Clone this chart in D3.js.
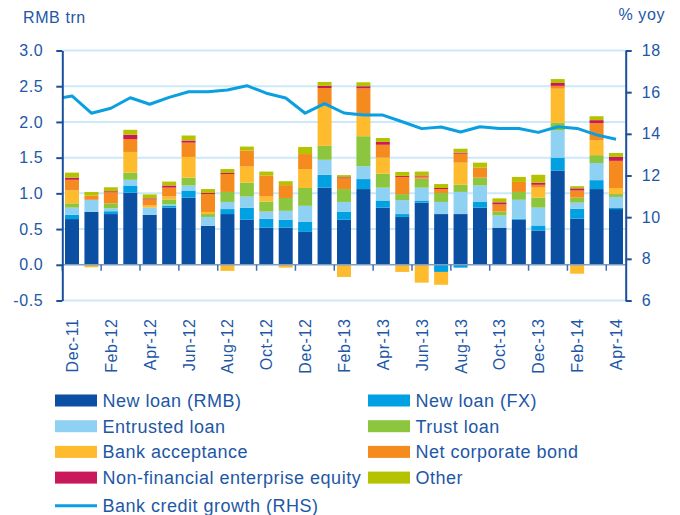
<!DOCTYPE html>
<html>
<head>
<meta charset="utf-8">
<title>Total social financing</title>
<style>
  body { margin: 0; background: #fff; }
  svg { display: block; font-family: "Liberation Sans", Arial, sans-serif; }
</style>
</head>
<body>
<main></main>
<script src="https://cdn.jsdelivr.net/npm/d3@7"></script>
<script>

const months = ["Dec-11","Jan-12","Feb-12","Mar-12","Apr-12","May-12","Jun-12","Jul-12","Aug-12","Sep-12",
  "Oct-12","Nov-12","Dec-12","Jan-13","Feb-13","Mar-13","Apr-13","May-13","Jun-13","Jul-13","Aug-13",
  "Sep-13","Oct-13","Nov-13","Dec-13","Jan-14","Feb-14","Mar-14","Apr-14"];

// RMB trn, monthly flows
const newLoanRMB = [0.64,0.74,0.71,1.01,0.70,0.80,0.94,0.545,0.71,0.63,0.52,0.52,0.46,1.08,0.63,1.06,0.80,0.67,0.87,0.71,0.71,0.80,0.52,0.63,0.48,1.32,0.645,1.06,0.78];
const newLoanFX = [0.06,0,0.04,0.10,0,0.03,0.10,0,0.07,0.17,0.125,0.11,0.14,0.18,0.11,0.14,0.10,0.04,0.03,-0.10,-0.04,0.085,0,0.015,0.07,0.18,0.14,0.125,0.015];
const entrustedLoan = [0.10,0.17,0.04,0.08,0.10,0.015,0.07,0.125,0.10,0.155,0.10,0.125,0.225,0.21,0.14,0.18,0.18,0.195,0.18,0.17,0.31,0.225,0.17,0.265,0.25,0.38,0.085,0.24,0.155];
const trustLoan = [0.06,0,0.07,0.10,0,0.07,0.11,0.04,0.14,0.195,0.14,0.18,0.25,0.195,0.18,0.42,0.195,0.085,0.125,0.125,0.10,0.11,0.055,0.11,0.14,0.11,0.07,0.11,0.04];
const bankAcceptance = [0.18,-0.035,0,0.29,0.03,0.04,0.29,0.03,-0.085,0.225,0.07,-0.04,0.265,0.56,-0.17,0.28,0.225,-0.10,-0.25,-0.18,0.31,0,0,0,0.14,0.475,-0.125,0.21,0.085];
const netCorpBond = [0.15,0.06,0.155,0.18,0.085,0.125,0.20,0.25,0.25,0.225,0.295,0.18,0.21,0.25,0.15,0.39,0.18,0.24,0.03,0.055,0.125,0.14,0.10,0.14,0.04,0.04,0.10,0.24,0.38];
const nonFinEquity = [0.03,0,0.015,0.06,0.015,0.03,0.03,0.015,0.015,0,0,0,0,0.03,0.015,0.03,0.04,0.015,0.015,0.015,0.015,0,0.03,0,0.03,0.04,0.03,0.04,0.055];
const other = [0.07,0.05,0.055,0.07,0.055,0.055,0.07,0.055,0.055,0.055,0.055,0.055,0.10,0.055,0.03,0.055,0.055,0.055,0.055,0.055,0.055,0.07,0.055,0.07,0.11,0.055,0.03,0.055,0.055];

// % yoy, right axis
const creditGrowth = [15.82,14.99,15.23,15.73,15.42,15.75,16.02,16.02,16.10,16.31,15.95,15.72,14.99,15.45,15.0,14.9,14.9,14.58,14.25,14.33,14.09,14.34,14.26,14.26,14.07,14.34,14.26,13.95,13.74];
const creditGrowthNov11 = 15.65; // month before the first bar, line runs in from the axis

const seriesNames = ["New loan (RMB)","New loan (FX)","Entrusted loan","Trust loan","Bank acceptance","Net corporate bond","Non-financial enterprise equity","Other"];
const seriesValues = [newLoanRMB,newLoanFX,entrustedLoan,trustLoan,bankAcceptance,netCorpBond,nonFinEquity,other];
const seriesColors = ["#0b4fa3","#00a0e3","#8ed1f2","#8cc63e","#fdbb2d","#f58a1f","#c9195b","#b5c200"];
const lineName = "Bank credit growth (RHS)";
const lineColor = "#0a9fe1";

const leftTicks = [-0.5,0,0.5,1,1.5,2,2.5,3];
const rightTicks = [6,8,10,12,14,16,18];

const width = 680, height = 515;
const textColor = "#1d57a6", axisColor = "#1a4f9c", gridColor = "#cbe9f8";
const plotLeft = 62.3, plotRight = 625.7, plotTop = 50.5, plotBottom = 300.5;

const table = months.map((m, i) => {
  const row = { month: m };
  seriesNames.forEach((s, j) => row[s] = seriesValues[j][i]);
  return row;
});

const x = d3.scaleBand().domain(months).range([plotLeft, plotRight]).paddingInner(0.28).paddingOuter(0.14);
const y = d3.scaleLinear().domain([-0.5, 3]).range([plotBottom, plotTop]);
const y2 = d3.scaleLinear().domain([6, 18]).range([plotBottom, plotTop]);
const step = x.step();

const svg = d3.select("main").append("svg")
  .attr("width", width).attr("height", height);

// gridlines
svg.append("g").selectAll("line")
  .data(leftTicks.filter(d => d !== 0))
  .join("line")
    .attr("x1", plotLeft).attr("x2", plotRight)
    .attr("y1", d => y(d)).attr("y2", d => y(d))
    .attr("stroke", gridColor).attr("stroke-width", 2);

// stacked bars
const stacked = d3.stack().keys(seriesNames).offset(d3.stackOffsetDiverging)(table);
svg.append("g").selectAll("g")
  .data(stacked)
  .join("g")
    .attr("fill", (d, i) => seriesColors[i])
  .selectAll("rect")
  .data(d => d)
  .join("rect")
    .attr("x", d => x(d.data.month))
    .attr("width", x.bandwidth())
    .attr("y", d => y(Math.max(d[0], d[1])))
    .attr("height", d => Math.abs(y(d[0]) - y(d[1])));

// zero axis with ticks every two months
const xAxisG = svg.append("g");
xAxisG.append("line")
  .attr("x1", plotLeft).attr("x2", plotRight)
  .attr("y1", y(0)).attr("y2", y(0))
  .attr("stroke", "#7f9cc4").attr("stroke-width", 1.5);
xAxisG.selectAll("line.tk")
  .data(months.filter((m, i) => i % 2 === 0))
  .join("line")
    .attr("class", "tk")
    .attr("x1", d => x(d) - x.paddingInner() * step / 2)
    .attr("x2", d => x(d) - x.paddingInner() * step / 2)
    .attr("y1", y(0)).attr("y2", y(0) + 6)
    .attr("stroke", "#3d6db0").attr("stroke-width", 1.5);

// month labels
svg.append("g").selectAll("text")
  .data(months.filter((m, i) => i % 2 === 0))
  .join("text")
    .attr("transform", d => `translate(${x(d) + x.bandwidth() / 2 + 6},${plotBottom + 18}) rotate(-90)`)
    .attr("text-anchor", "end")
    .attr("fill", textColor)
    .style("font-size", "16px")
    .style("letter-spacing", "0.6px")
    .text(d => d);

// credit growth line
svg.append("clipPath").attr("id", "plotclip")
  .append("rect").attr("x", plotLeft).attr("y", 0).attr("width", plotRight - plotLeft).attr("height", height);

const linePts = [[x(months[0]) + x.bandwidth() / 2 - step, creditGrowthNov11]]
  .concat(months.map((m, i) => [x(m) + x.bandwidth() / 2, creditGrowth[i]]));
svg.append("path")
  .datum(linePts)
  .attr("clip-path", "url(#plotclip)")
  .attr("fill", "none")
  .attr("stroke", lineColor)
  .attr("stroke-width", 3)
  .attr("stroke-linejoin", "round")
  .attr("d", d3.line().x(d => d[0]).y(d => y2(d[1])));

// y axes
const yAxisL = svg.append("g")
  .attr("transform", `translate(${plotLeft},0)`)
  .call(d3.axisLeft(y).tickValues(leftTicks).tickSize(6).tickSizeOuter(0).tickPadding(13).tickFormat(d => d.toFixed(1)));
const yAxisR = svg.append("g")
  .attr("transform", `translate(${plotRight},0)`)
  .call(d3.axisRight(y2).tickValues(rightTicks).tickSize(6).tickSizeOuter(0).tickPadding(10).tickFormat(d3.format("d")));

[yAxisL, yAxisR].forEach(g => {
  g.select(".domain").attr("stroke", axisColor).attr("stroke-width", 2);
  g.selectAll(".tick line").attr("stroke", axisColor).attr("stroke-width", 2);
  g.selectAll(".tick text")
    .attr("fill", textColor)
    .style("font-size", "16px")
    .style("font-family", "'Liberation Sans', Arial, sans-serif")
    .style("letter-spacing", "0.6px");
});

// axis titles
svg.append("text")
  .attr("x", 23).attr("y", 23)
  .attr("fill", textColor)
  .style("font-size", "16px")
  .style("letter-spacing", "0.6px")
  .text("RMB trn");
svg.append("text")
  .attr("x", 665).attr("y", 20)
  .attr("text-anchor", "end")
  .attr("fill", textColor)
  .style("font-size", "16px")
  .style("letter-spacing", "0.6px")
  .text("% yoy");

// legend
const legendItems = [
  { name: seriesNames[0], color: seriesColors[0], col: 0, row: 0 },
  { name: seriesNames[1], color: seriesColors[1], col: 1, row: 0 },
  { name: seriesNames[2], color: seriesColors[2], col: 0, row: 1 },
  { name: seriesNames[3], color: seriesColors[3], col: 1, row: 1 },
  { name: seriesNames[4], color: seriesColors[4], col: 0, row: 2 },
  { name: seriesNames[5], color: seriesColors[5], col: 1, row: 2 },
  { name: seriesNames[6], color: seriesColors[6], col: 0, row: 3 },
  { name: seriesNames[7], color: seriesColors[7], col: 1, row: 3 },
  { name: lineName, color: lineColor, col: 0, row: 4, line: true }
];
const colX = [55, 368], rowY = 400.5, rowGap = 25.7;

const legend = svg.append("g").selectAll("g")
  .data(legendItems)
  .join("g")
    .attr("transform", d => `translate(${colX[d.col]},${rowY + d.row * rowGap})`);

legend.filter(d => !d.line).append("rect")
  .attr("x", 0).attr("y", -6).attr("width", 42).attr("height", 12)
  .attr("fill", d => d.color);
legend.filter(d => d.line).append("line")
  .attr("x1", 0).attr("x2", 42).attr("y1", 2.5).attr("y2", 2.5)
  .attr("stroke", d => d.color).attr("stroke-width", 3);
legend.append("text")
  .attr("x", 47.5)
  .attr("y", d => d.line ? 2.5 : 0)
  .attr("dy", "0.35em")
  .attr("fill", textColor)
  .style("font-size", "18px")
  .style("letter-spacing", "0.5px")
  .text(d => d.name);

</script>
</body>
</html>
